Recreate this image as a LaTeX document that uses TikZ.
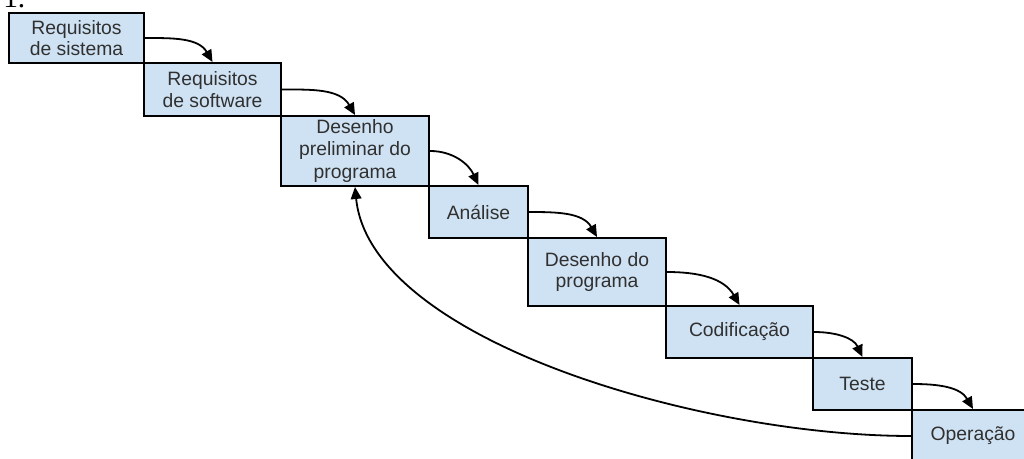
\documentclass[tikz,border=0pt]{standalone}
\usepackage{fontspec}
\setmainfont{Liberation Sans}
\newfontfamily\numfont{Liberation Serif}
\usetikzlibrary{arrows.meta}
\definecolor{boxfill}{HTML}{CFE2F3}
\definecolor{txtcol}{HTML}{303030}
\tikzset{
  stage/.style={draw=black, line width=1.5pt, fill=boxfill, inner sep=0pt,
    align=center, text=txtcol, font=\fontsize{14.5}{16}\selectfont},
  flow/.style={line width=1.35pt, -{Triangle[length=9pt,width=8pt]}},
}
\begin{document}
\begin{tikzpicture}[x=0.75pt,y=-0.75pt]
\clip (0,0) rectangle (1024,459);
\useasboundingbox (0,0) rectangle (1024,459);
\node[anchor=base west, inner sep=0pt, font=\numfont\fontsize{22}{24}\selectfont] (num) at (3,7.5) {1.};
\node[stage, minimum width=101.25pt, minimum height=37.5pt] (b1) at (76.5,38) {Requisitos\\de sistema};
\node[stage, minimum width=102.75pt, minimum height=39.75pt] (b2) at (212.5,89.5) {Requisitos\\de software};
\node[stage, minimum width=111pt, minimum height=52.5pt, font=\fontsize{14.5}{17}\selectfont] (b3) at (355,151) {Desenho\\preliminar do\\programa};
\node[stage, minimum width=74.25pt, minimum height=39pt] (b4) at (478.5,212) {Análise};
\node[stage, minimum width=103.5pt, minimum height=51pt] (b5) at (597,272) {Desenho do\\programa};
\node[stage, minimum width=110.25pt, minimum height=39pt] (b6) at (739.5,332) {Codificação};
\node[stage, minimum width=74.25pt, minimum height=39pt] (b7) at (862.5,384) {Teste};
\node[stage, minimum width=91.5pt, minimum height=39pt] (b8) at (973,436) {Operação};
\draw[flow] (b1.east) to[out=0,in=120] (b2.north);
\draw[flow] (b2.east) to[out=0,in=120] (b3.north);
\draw[flow] (b3.east) to[out=0,in=115] (b4.north);
\draw[flow] (b4.east) to[out=0,in=120] (b5.north);
\draw[flow] (b5.east) to[out=0,in=120] (b6.north);
\draw[flow] (b6.east) to[out=0,in=115] (b7.north);
\draw[flow] (b7.east) to[out=0,in=120] (b8.north);
\draw[flow] (b8.west) .. controls (700,436) and (370,340) .. (b3.south);
\end{tikzpicture}
\end{document}
